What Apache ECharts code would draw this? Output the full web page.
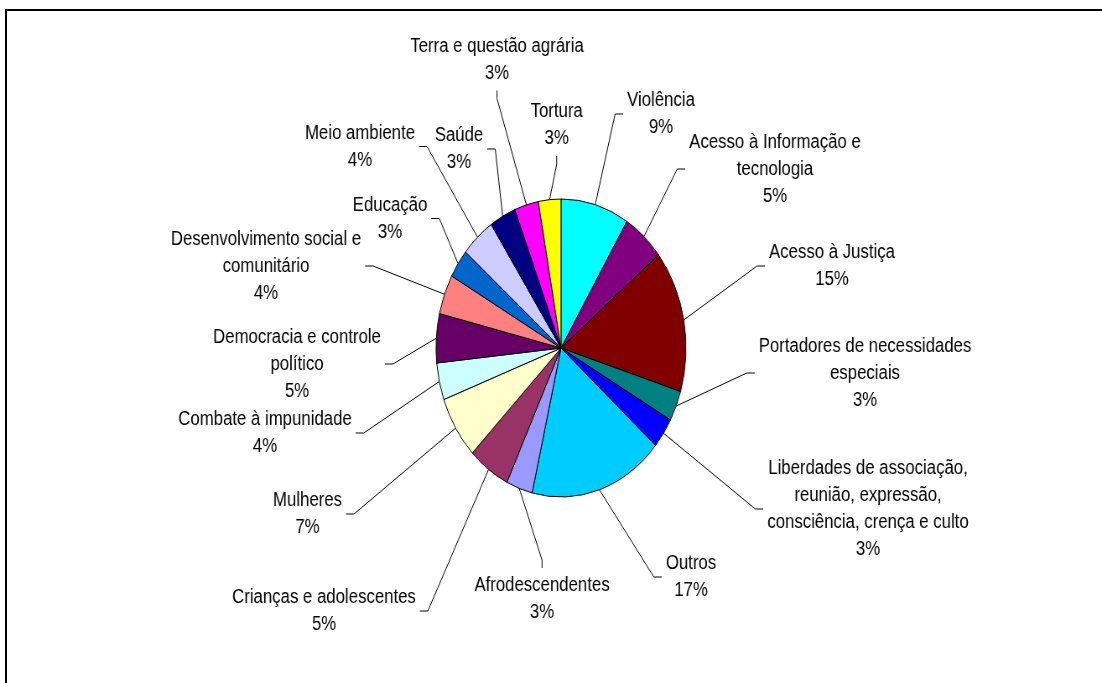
<!DOCTYPE html>
<html>
<head>
<meta charset="utf-8">
<script src="https://cdn.jsdelivr.net/npm/echarts@6/dist/echarts.min.js"></script>
<style>
  html, body { margin: 0; padding: 0; background: #fff; overflow: hidden; }
  #frame { position: absolute; left: 5px; top: 9px; width: 1300px; height: 900px;
           border-top: 2px solid #000; border-left: 2px solid #000; box-sizing: border-box; }
  #wrap { position: absolute; left: 0; top: 0; width: 1314px; height: 683px;
          transform: scaleX(0.838661); transform-origin: 0 0; }
  #chart { width: 1314px; height: 683px; }
</style>
</head>
<body>
<div id="frame"></div>
<div id="wrap"><div id="chart"></div></div>
<script>
// ---- data ----
const categories = [
  'Violência',
  'Acesso à Informação e\ntecnologia',
  'Acesso à Justiça',
  'Portadores de necessidades\nespeciais',
  'Liberdades de associação,\nreunião, expressão,\nconsciência, crença e culto',
  'Outros',
  'Afrodescendentes',
  'Crianças e adolescentes',
  'Mulheres',
  'Combate à impunidade',
  'Democracia e controle\npolítico',
  'Desenvolvimento social e\ncomunitário',
  'Educação',
  'Meio ambiente',
  'Saúde',
  'Terra e questão agrária',
  'Tortura'
];
const values = [8.8, 5.4, 15.4, 3.3, 3.3, 17.3, 3.4, 5.4, 6.8, 4.0, 5.3, 4.3, 3.1, 4.4, 3.4, 3.1, 2.9];
const colors = ['#00FFFF', '#800080', '#800000', '#008080', '#0000FF', '#00CCFF', '#9999FF', '#993366',
                '#FFFFCC', '#CCFFFF', '#660066', '#FF8080', '#0066CC', '#CCCCFF', '#000080', '#FF00FF', '#FFFF00'];

// ---- layout (label block centres, in page pixels) ----
const S = 1102 / 1314; // horizontal squeeze of the whole picture
const labelAt = [
  [661, 114], [775, 169], [832, 266], [865, 373], [868, 509], [691, 577], [542, 599],
  [324, 611], [307.5, 514], [265, 433], [297, 364], [266, 266], [390, 218.5],
  [360, 146.5], [459, 149], [497, 59.5], [556.7, 125]
];

const chart = echarts.init(document.getElementById('chart'), null, { renderer: 'canvas' });
chart.setOption({
  animation: false,
  backgroundColor: 'transparent',
  series: [{
    type: 'pie',
    center: [561 / S, 348],
    radius: 149,
    startAngle: 90,
    clockwise: true,
    avoidLabelOverlap: false,
    itemStyle: { borderColor: '#000', borderWidth: 1 },
    label: {
      show: true,
      position: 'outside',
      color: '#000',
      fontFamily: 'Liberation Sans, Arial, sans-serif',
      fontSize: 20,
      lineHeight: 27,
      formatter: function (p) { return p.name + '\n' + Math.round(p.percent) + '%'; }
    },
    labelLine: { show: true, length: 15, length2: 15, lineStyle: { color: '#000', width: 1 } },
    labelLayout: function (p) {
      const i = p.dataIndex;
      const cx = labelAt[i][0] / S, cy = labelAt[i][1];
      const w = p.labelRect.width, h = p.labelRect.height;
      const e = p.labelLinePoints[0];
      const left = cx - w / 2, right = cx + w / 2, top = cy - h / 2, bottom = cy + h / 2;
      const PAD = 4 / S, SEG = 8 / S;
      let end, bend;
      if (e[0] < left) { end = [left - PAD, cy]; bend = [end[0] - SEG, cy]; }
      else if (e[0] > right) { end = [right + PAD, cy]; bend = [end[0] + SEG, cy]; }
      else if (e[1] > bottom) { end = [cx, bottom + 4]; bend = [cx, end[1] + 8]; }
      else { end = [cx, top - 4]; bend = [cx, end[1] - 8]; }
      return { x: cx, y: cy, align: 'center', verticalAlign: 'middle', labelLinePoints: [e, bend, end] };
    },
    data: categories.map(function (c, i) {
      return { name: c, value: values[i], itemStyle: { color: colors[i] } };
    })
  }]
});
</script>
</body>
</html>
